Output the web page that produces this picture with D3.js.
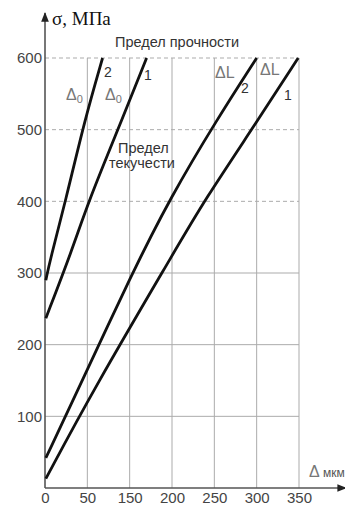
<!DOCTYPE html>
<html><head><meta charset="utf-8">
<script src="https://cdn.jsdelivr.net/npm/d3@7"></script>
<style>body{margin:0;background:#fff}svg{display:block}</style>
</head><body>
<svg id="c" width="345" height="505"></svg>
<script>
// Data (x in equal-step positions, labelled by xTickLabels)
const xTickValues = [0, 50, 100, 150, 200, 250, 300];
const xTickLabels = ["0", "50", "150", "200", "250", "300", "350"];
const yTickValues = [100, 200, 300, 400, 500, 600];
const dashedY = [400, 500, 600];
const lineDL1 = [[1, 13], [57, 137], [154, 332], [187, 399], [252, 514], [299, 600]];
const lineDL2 = [[1, 42], [39, 137], [103, 300], [148, 405], [203, 514], [250, 600]];
const lineD01 = [[1, 237], [32, 332], [51, 399], [91, 514], [120, 600]];
const lineD02 = [[1, 290], [6, 318], [24, 399], [47, 514], [68, 600]];

const svg = d3.select("#c");
const x = d3.scaleLinear().domain([0, 300]).range([45, 299]);
const y = d3.scaleLinear().domain([0, 600]).range([488, 58]);
const gray = "#ababab", axisCol = "#555", txt = "#444";
const font = "'Liberation Sans', Arial, sans-serif";

// vertical grid
svg.append("g").selectAll("line").data(xTickValues.slice(1)).join("line")
  .attr("x1", d => x(d)).attr("x2", d => x(d)).attr("y1", y(600)).attr("y2", y(0))
  .attr("stroke", gray).attr("stroke-width", 1);
// horizontal grid
svg.append("g").selectAll("line").data(yTickValues).join("line")
  .attr("x1", x(0)).attr("x2", x(300)).attr("y1", d => y(d)).attr("y2", d => y(d))
  .attr("stroke", gray).attr("stroke-width", 1)
  .attr("stroke-dasharray", d => dashedY.includes(d) ? "4,3" : null);

// axes
const yAxis = d3.axisLeft(y).tickValues(yTickValues).tickSize(0).tickPadding(3);
const gy = svg.append("g").attr("transform", `translate(${x(0)},0)`).call(yAxis);
gy.select(".domain").remove();
gy.selectAll("text").attr("font-family", font).attr("font-size", 15).attr("fill", txt);
const xAxis = d3.axisBottom(x).tickValues(xTickValues).tickSize(0).tickPadding(4)
  .tickFormat((d, i) => xTickLabels[i]);
const gx = svg.append("g").attr("transform", `translate(0,${y(0)})`).call(xAxis);
gx.select(".domain").remove();
gx.selectAll("text").attr("font-family", font).attr("font-size", 15).attr("fill", txt);

// axis lines with arrows
const defs = svg.append("defs");
defs.append("marker").attr("id", "ar").attr("viewBox", "0 0 10 10").attr("refX", 9).attr("refY", 5)
  .attr("markerWidth", 6).attr("markerHeight", 6).attr("orient", "auto")
  .append("path").attr("d", "M0,1 L10,5 L0,9 Z").attr("fill", "#222");
svg.append("line").attr("x1", x(0)).attr("x2", x(0)).attr("y1", y(0)).attr("y2", 13)
  .attr("stroke", axisCol).attr("stroke-width", 1.6).attr("marker-end", "url(#ar)");
svg.append("line").attr("x1", x(0)).attr("x2", 346).attr("y1", y(0)).attr("y2", y(0))
  .attr("stroke", axisCol).attr("stroke-width", 1.6).attr("marker-end", "url(#ar)");

// data lines
const line = d3.line().x(d => x(d[0])).y(d => y(d[1])).curve(d3.curveBasis);
[lineDL1, lineDL2, lineD01, lineD02].forEach(l => {
  svg.append("path").datum(l).attr("d", line).attr("fill", "none")
    .attr("stroke", "#111").attr("stroke-width", 2.8);
});

// texts
function t(xp, yp, s, size, fill, fam) {
  return svg.append("text").attr("x", xp).attr("y", yp).text(s)
    .attr("font-family", fam || font).attr("font-size", size).attr("fill", fill || txt);
}
t(52, 25, "σ, МПа", 19, "#111", "'Liberation Serif', 'Times New Roman', serif");
t(115, 47, "Предел прочности", 14.5, "#333");
t(118, 153, "Предел", 14.5, "#333");
t(109, 168, "текучести", 14.5, "#333");
// numbers near lines
t(104, 77, "2", 14, "#333");
t(144, 80, "1", 14, "#333");
t(241, 93, "2", 14, "#333");
t(284, 100, "1", 14, "#333");
// Δ0 labels
function d0(xp, yp) {
  const e = t(xp, yp, "Δ", 16, "#777");
  e.append("tspan").text("0").attr("font-size", 11).attr("dy", 3);
}
d0(66, 100);
d0(105, 100);
t(215, 78, "ΔL", 16, "#777");
t(260, 75, "ΔL", 16, "#777");
t(309, 477, "Δ", 16, "#777");
t(323, 477, "мкм", 12, "#555");
</script>
</body></html>
